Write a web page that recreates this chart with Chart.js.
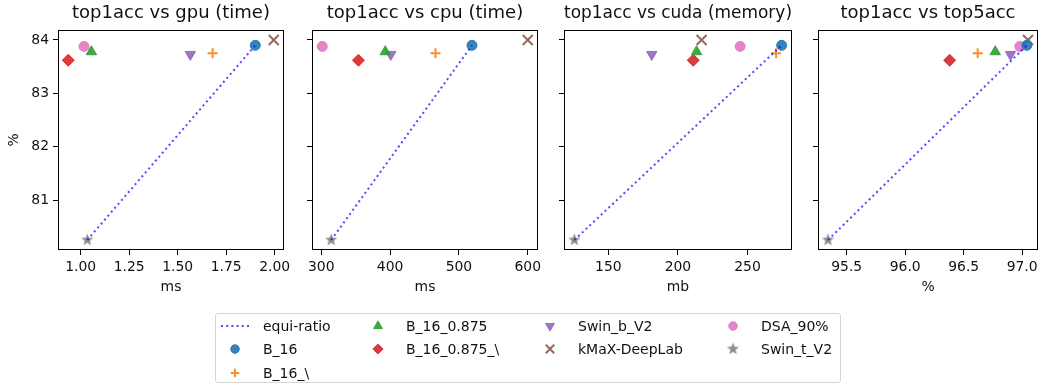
<!DOCTYPE html>
<html>
<head>
<meta charset="utf-8">
<script src="https://cdn.jsdelivr.net/npm/chart.js@4/dist/chart.umd.min.js"></script>
<style>
  body { margin: 0; background: #fff; }
  #wrap { position: relative; width: 1047px; height: 385px; font-family: 'DejaVu Sans', sans-serif; }
  #wrap canvas.panel { position: absolute; left: 0; top: 0; }
  #legend {
    position: absolute; left: 215px; top: 313px; width: 626px; height: 70px;
    box-sizing: border-box; border: 1px solid #d6d6d6; border-radius: 3px; background: #fff;
    display: grid; grid-template-rows: repeat(3, 23.5px);
    grid-template-columns: 143px 172px 183px auto; padding-left: 4px;
  }
  .item { display: flex; align-items: center; font-size: 14px; color: #111; white-space: nowrap; }
  .item canvas { width: 30px; height: 20px; margin-right: 13px; }
</style>
</head>
<body>
<div id="wrap">
  <canvas class="panel" id="p0" width="1047" height="300"></canvas>
  <canvas class="panel" id="p1" width="1047" height="300"></canvas>
  <canvas class="panel" id="p2" width="1047" height="300"></canvas>
  <canvas class="panel" id="p3" width="1047" height="300"></canvas>
  <div id="legend"></div>
</div>
<script>
// data
const models = ['B_16', 'B_16_\\', 'B_16_0.875', 'B_16_0.875_\\', 'Swin_b_V2', 'kMaX-DeepLab', 'DSA_90%', 'Swin_t_V2'];
const top1Acc = [83.90, 83.75, 83.78, 83.62, 83.73, 84.00, 83.88, 80.25];
const gpuMs   = [1.90, 1.68, 1.055, 0.936, 1.565, 1.995, 1.017, 1.034];
const cpuMs   = [519, 466, 393, 354, 401, 600, 301.5, 314.5];
const cudaMb  = [274.5, 270.5, 213.4, 211, 181.2, 217, 244.7, 125.6];
const top5Acc = [97.04, 96.62, 96.77, 96.38, 96.90, 97.05, 96.98, 95.34];
const yTicks  = [81, 82, 83, 84];
// equi-ratio line joins these two models
const lineFrom = 'Swin_t_V2', lineTo = 'B_16';

const colors = ['#1f77b4', '#ff7f0e', '#2ca02c', '#d62728', '#9467bd', '#8c564b', '#e377c2', '#7f7f7f'];

function alpha(hex, a) {
  const n = parseInt(hex.slice(1), 16);
  return `rgba(${n >> 16},${(n >> 8) & 255},${n & 255},${a})`;
}

// filled 5-point star like matplotlib '*'
function makeStar(color, r) {
  const c = document.createElement('canvas');
  c.width = c.height = Math.ceil(r * 2 + 2);
  const ctx = c.getContext('2d');
  const cx = c.width / 2, cy = c.height / 2;
  ctx.beginPath();
  for (let k = 0; k < 10; k++) {
    const rr = k % 2 ? r * 0.42 : r;
    const a = -Math.PI / 2 + k * Math.PI / 5;
    ctx.lineTo(cx + rr * Math.cos(a), cy + rr * Math.sin(a));
  }
  ctx.closePath();
  ctx.fillStyle = color;
  ctx.fill();
  return c;
}

const markers = [
  { pointStyle: 'circle', radius: 5, rotation: 0, borderWidth: 1 },
  { pointStyle: 'cross', radius: 5, rotation: 0, borderWidth: 2 },
  { pointStyle: 'triangle', radius: 6, rotation: 0, borderWidth: 1 },
  { pointStyle: 'rectRot', radius: 6, rotation: 0, borderWidth: 1 },
  { pointStyle: 'triangle', radius: 6, rotation: 180, borderWidth: 1 },
  { pointStyle: 'crossRot', radius: 7, rotation: 0, borderWidth: 2 },
  { pointStyle: 'circle', radius: 5, rotation: 0, borderWidth: 1 },
  { pointStyle: makeStar(alpha(colors[7], 0.9), 6.5), radius: 6, rotation: 0, borderWidth: 0 }
];

const lineColor = 'rgba(0,0,255,0.7)';
const W = 1047;
const panels = [
  { id: 'p0', title: 'top1acc vs gpu (time)', xs: gpuMs, xlabel: 'ms', step: 0.25, dec: 2, left: 58, right: 284, yLabels: true },
  { id: 'p1', title: 'top1acc vs cpu (time)', xs: cpuMs, xlabel: 'ms', step: 100, dec: 0, left: 312, right: 538 },
  { id: 'p2', title: 'top1acc vs cuda (memory)', xs: cudaMb, xlabel: 'mb', step: 50, dec: 0, left: 564, right: 792 },
  { id: 'p3', title: 'top1acc vs top5acc', xs: top5Acc, xlabel: '%', step: 0.5, dec: 1, left: 818, right: 1046 }
];

function padded(arr) {
  const lo = Math.min(...arr), hi = Math.max(...arr), m = (hi - lo) * 0.05;
  return [lo - m, hi + m];
}

const frame = {
  id: 'frame',
  afterDraw(chart) {
    const { ctx, chartArea: a } = chart;
    ctx.save();
    ctx.strokeStyle = '#000';
    ctx.lineWidth = 1;
    ctx.strokeRect(Math.round(a.left) + 0.5, Math.round(a.top) + 0.5,
      Math.round(a.right - a.left) - 1, Math.round(a.bottom - a.top) - 1);
    ctx.restore();
  }
};

Chart.defaults.font.family = "'DejaVu Sans', sans-serif";
Chart.defaults.color = '#111';

const [yMin, yMax] = padded(top1Acc);
const iA = models.indexOf(lineFrom), iB = models.indexOf(lineTo);

panels.forEach(p => {
  const [xMin, xMax] = padded(p.xs);
  const yW = p.yLabels ? 58 : 10;
  const datasets = [{
    label: 'equi-ratio',
    data: [{ x: p.xs[iA], y: top1Acc[iA] }, { x: p.xs[iB], y: top1Acc[iB] }],
    showLine: true, borderColor: lineColor, borderWidth: 2, borderDash: [2, 3.2],
    pointRadius: 0, order: 0
  }].concat(models.map((m, i) => ({
    label: m,
    data: [{ x: p.xs[i], y: top1Acc[i] }],
    pointStyle: markers[i].pointStyle,
    pointRadius: markers[i].radius,
    rotation: markers[i].rotation,
    backgroundColor: alpha(colors[i], 0.9),
    borderColor: alpha(colors[i], 0.9),
    borderWidth: markers[i].borderWidth,
    order: 1
  })));

  new Chart(document.getElementById(p.id), {
    type: 'scatter',
    data: { datasets },
    options: {
      responsive: false,
      animation: false,
      layout: { padding: { left: p.left - yW, right: W - p.right, top: 0, bottom: 0 } },
      plugins: {
        legend: { display: false },
        tooltip: { enabled: false },
        title: { display: true, fullSize: false, text: p.title, font: { size: 18, weight: 'normal' },
                 padding: { top: 3, bottom: 5.4 } }
      },
      scales: {
        x: {
          type: 'linear', min: xMin, max: xMax,
          ticks: { stepSize: p.step, includeBounds: false, autoSkip: false, maxRotation: 0, padding: 4,
                   font: { size: 13.9 }, callback: v => v.toFixed(p.dec) },
          grid: { drawOnChartArea: false, drawTicks: true, tickLength: 5, tickColor: '#000' },
          border: { display: false },
          title: { display: true, text: p.xlabel, font: { size: 13.9 }, padding: { top: 0, bottom: 4 } },
          afterFit: s => { s.height = 50; }
        },
        y: {
          type: 'linear', min: yMin, max: yMax,
          afterBuildTicks: s => { s.ticks = yTicks.map(v => ({ value: v })); },
          ticks: { display: !!p.yLabels, padding: 4, font: { size: 13.9 } },
          grid: { drawOnChartArea: false, drawTicks: true, tickLength: 5, tickColor: '#000' },
          border: { display: false },
          title: { display: !!p.yLabels, text: '%', font: { size: 13.9 }, padding: { top: 6, bottom: 0 } },
          afterFit: s => { s.width = yW; }
        }
      }
    },
    plugins: [frame]
  });
});

// legend, filled column by column like matplotlib (ncol = 4)
const legendItems = ['equi-ratio'].concat(models);
const nCol = 4;
const base = Math.floor(legendItems.length / nCol), extra = legendItems.length % nCol;
const legend = document.getElementById('legend');
let idx = 0;
for (let c = 0; c < nCol; c++) {
  const n = base + (c < extra ? 1 : 0);
  for (let r = 0; r < n; r++, idx++) {
    const div = document.createElement('div');
    div.className = 'item';
    div.style.gridColumn = c + 1;
    div.style.gridRow = r + 1;
    const cv = document.createElement('canvas');
    cv.width = 30; cv.height = 20;
    const ctx = cv.getContext('2d');
    if (idx === 0) {
      ctx.strokeStyle = lineColor;
      ctx.lineWidth = 2;
      ctx.setLineDash([2, 3.2]);
      ctx.beginPath(); ctx.moveTo(1, 10); ctx.lineTo(30, 10); ctx.stroke();
    } else {
      const i = idx - 1;
      ctx.fillStyle = alpha(colors[i], 0.9);
      ctx.strokeStyle = alpha(colors[i], 0.9);
      ctx.lineWidth = markers[i].borderWidth;
      Chart.helpers.drawPoint(ctx, {
        pointStyle: markers[i].pointStyle, radius: markers[i].radius * 0.85,
        rotation: markers[i].rotation, borderWidth: markers[i].borderWidth
      }, 15, 10);
    }
    const span = document.createElement('span');
    span.textContent = legendItems[idx];
    div.appendChild(cv);
    div.appendChild(span);
    legend.appendChild(div);
  }
}
</script>
</body>
</html>
